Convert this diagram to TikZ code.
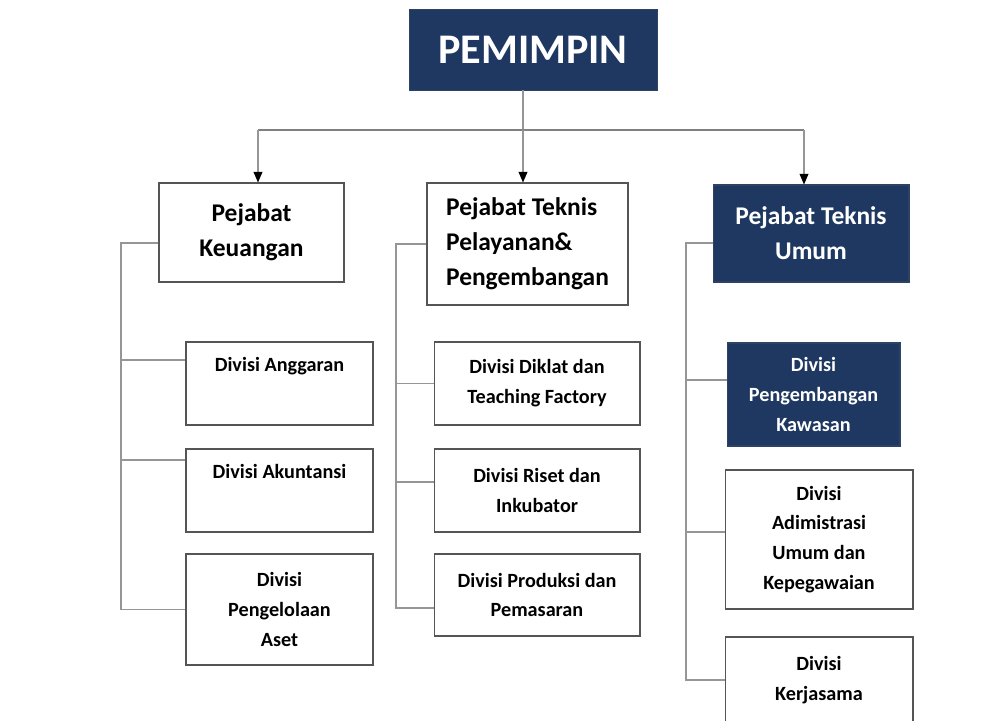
\documentclass[tikz,border=0pt]{standalone}
\usepackage{fontspec}
\setmainfont{Carlito}
\usetikzlibrary{arrows.meta}
\definecolor{navy}{RGB}{30,56,98}
\definecolor{rule}{RGB}{150,150,150}
\definecolor{frame}{RGB}{85,85,85}

\begin{document}
\begin{tikzpicture}[x=0.02cm,y=-0.02cm,
    dark/.style={fill=navy, draw=navy!85!gray, text=white},
    tip/.style={-{Triangle[width=5pt,length=6pt,color=black]}}]

        \useasboundingbox (0,0) rectangle (983,720);
        \clip (0,0) rectangle (983,720);

        \node[dark, inner sep=0pt, font=\bfseries\fontsize{24}{28}\selectfont,
              minimum width=4.96cm, minimum height=1.62cm] (pem) at (533,49.5) {PEMIMPIN};

        \begin{scope}[every node/.style={draw=frame, line width=0.6pt, fill=white, inner sep=0pt,
                      font=\bfseries\fontsize{14.5}{20}\selectfont}]
          \node[align=center, minimum width=3.7cm,  minimum height=1.98cm] (keu)  at (251.5,232.5) {Pejabat\\Keuangan};
          \node[align=left,   minimum width=4.02cm, minimum height=2.44cm] (pel)  at (527.5,244)   {Pejabat Teknis\\Pelayanan\&\\Pengembangan};
          \node[dark, align=center, minimum width=3.92cm, minimum height=1.94cm] (umum) at (811,233.5) {Pejabat Teknis\\Umum};
        \end{scope}

        \begin{scope}[every node/.style={draw=frame, line width=0.6pt, fill=white, inner sep=0pt, align=center,
                      font=\bfseries\fontsize{11.5}{17}\selectfont}]
          \node[minimum width=3.74cm, minimum height=1.66cm] (ang)  at (279.5,383.5) {Divisi Anggaran\\\strut};
          \node[minimum width=3.74cm, minimum height=1.66cm] (aku)  at (279.5,490.5) {Divisi Akuntansi\\\strut};
          \node[minimum width=3.74cm, minimum height=2.22cm] (aset) at (279.5,609.5) {Divisi\\Pengelolaan\\Aset};
          \node[minimum width=4.12cm, minimum height=1.66cm] (dik)  at (537,383.5)   {Divisi Diklat dan\\Teaching Factory};
          \node[minimum width=4.12cm, minimum height=1.66cm] (ris)  at (537,490.5)   {Divisi Riset dan\\Inkubator};
          \node[minimum width=4.12cm, minimum height=1.64cm] (pro)  at (537,595)     {Divisi Produksi dan\\Pemasaran};
          \node[dark, minimum width=3.46cm, minimum height=2.06cm] (kaw) at (813.5,394.5) {Divisi\\Pengembangan\\Kawasan};
          \node[minimum width=3.76cm, minimum height=2.78cm] (adm)  at (819,539.5)   {Divisi\\Adimistrasi\\Umum dan\\Kepegawaian};
          \node[minimum width=3.76cm, minimum height=1.72cm] (ker)  at (819,680)     {Divisi\\Kerjasama};
        \end{scope}

        \coordinate (hub) at (523,130);
        \coordinate (la)  at ([xshift=0.13cm]keu.north);
        \coordinate (ra)  at ([xshift=-0.14cm]umum.north);
        \coordinate (kt)  at (121,243);
        \coordinate (pt)  at (396,244);
        \coordinate (ut)  at (686,243);

        \begin{scope}[draw=rule, line width=0.6pt]
          \draw (pem.south -| hub) -- (hub);
          \draw[gray] (la |- hub) -- (ra |- hub);
          \draw[tip] (la |- hub) -- (la);
          \draw[tip] (ra |- hub) -- (ra);
          \draw[tip] (hub) -- (hub |- pel.north);

          \draw (kt -| keu.west) -- (kt) |- (aset.west);
          \draw (kt) |- ([yshift=0.47cm]ang.west);
          \draw (kt) |- ([yshift=0.61cm]aku.west);

          \draw (pt -| pel.west) -- (pt) |- ([yshift=-0.26cm]pro.west);
          \draw (pt) |- (dik.west);
          \draw (pt) |- ([yshift=0.17cm]ris.west);

          \draw (ut -| umum.west) -- (ut) |- (ker.west);
          \draw (ut) |- ([yshift=0.29cm]kaw.west);
          \draw (ut) |- ([yshift=0.15cm]adm.west);
        \end{scope}

      \end{tikzpicture}
\end{document}
